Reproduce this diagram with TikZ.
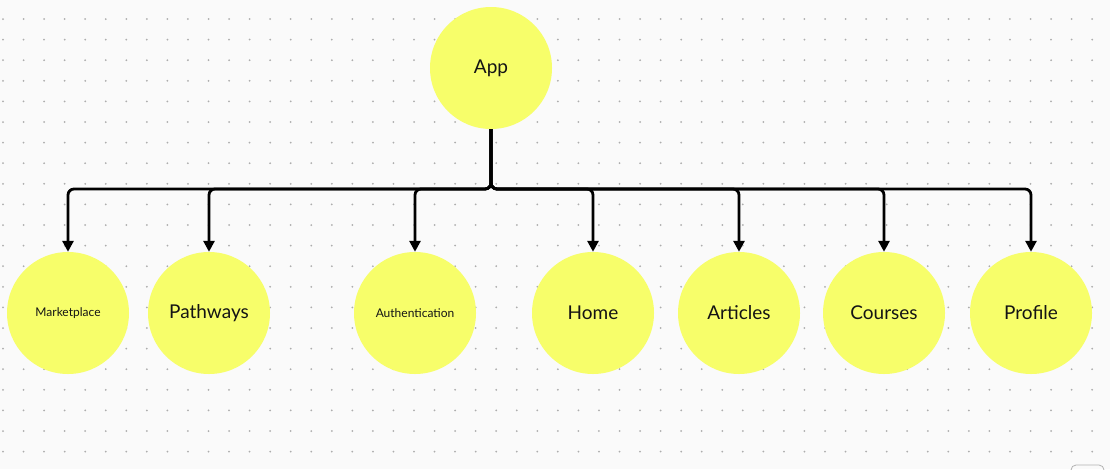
\documentclass[tikz,border=0pt]{standalone}
\usepackage{fontspec}
\setmainfont{Lato}
\usetikzlibrary{arrows.meta}

\definecolor{bgcol}{HTML}{FAFAFA}
\definecolor{dotcol}{HTML}{ADADAD}
\definecolor{bubble}{HTML}{F7FE6A}
\definecolor{ink}{HTML}{141414}

\tikzset{
  page/.style={x=1pt, y=-1pt},
  screen/.style={circle, fill=bubble, minimum size=122pt, inner sep=0pt,
    text=ink, font=\fontsize{19}{21}\selectfont},
  smallscreen/.style={screen, font=\fontsize{12}{14}\selectfont},
  link/.style={line width=2.8pt, rounded corners=6pt,
    -{Triangle[length=11pt, width=11pt]}}
}

\begin{document}
\begin{tikzpicture}[page]

% Canvas with dotted grid
\fill[bgcol] (0,0) rectangle (1110,469);
\useasboundingbox (0,0) rectangle (1110,469);
\foreach \i in {0,...,53} {
  \foreach \j in {0,...,22} {
    \fill[dotcol] (3+20.55*\i, 19+20.6*\j) circle (1pt);
  }
}

% Root
\node[screen] (app) at (491,68) {App};

% Children
\node[smallscreen] (market) at (68,313) {Marketplace};
\node[screen] (path) at (209,313) {Pathways};
\node[smallscreen] (auth) at (415,313) {Authentication};
\node[screen] (home) at (593,313) {Home};
\node[screen] (art) at (739,313) {Articles};
\node[screen] (course) at (884,313) {Courses};
\node[screen] (prof) at (1031,313) {Profile};

% Bus level
\coordinate (bus) at (491,189);

% Connectors
\foreach \c in {market, path, auth, home, art, course, prof} {
  \draw[link] (app.south) -- (bus) -| (\c.north);
}

% Corner widget
\draw[gray!60, line width=0.8pt, rounded corners=5pt] (1071,465) rectangle (1104,490);

\end{tikzpicture}
\end{document}
